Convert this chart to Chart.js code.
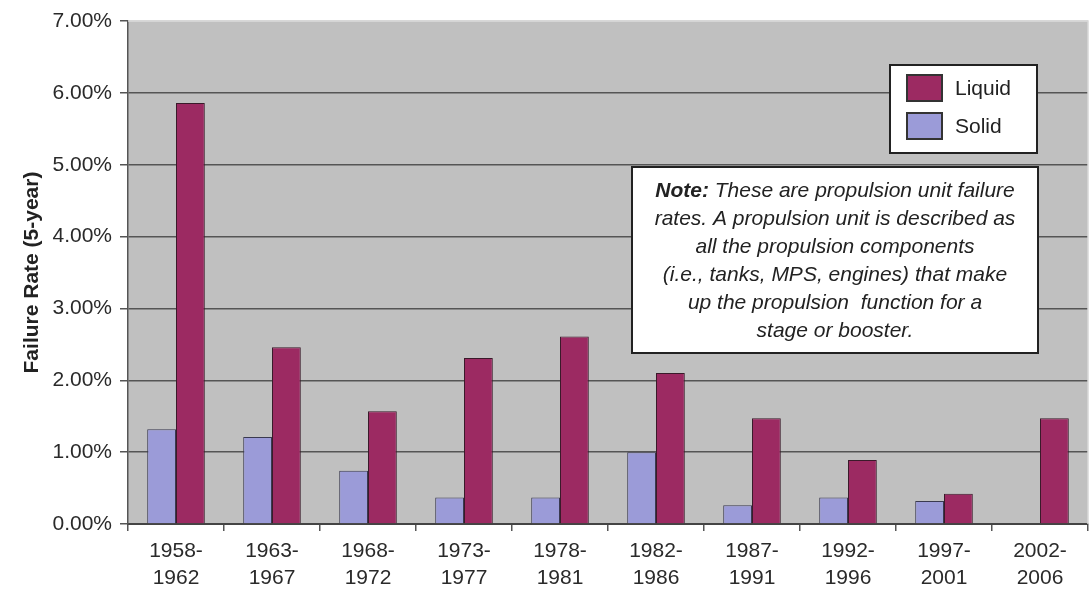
<!DOCTYPE html>
<html>
<head>
<meta charset="utf-8">
<title>Propulsion unit failure rate</title>
<script src="https://cdn.jsdelivr.net/npm/chart.js@4.4.1/dist/chart.umd.min.js"></script>
<style>
  html, body { margin: 0; padding: 0; background: #fff; }
  canvas { display: block; }
</style>
</head>
<body>
<canvas id="failureChart" width="1092" height="601"></canvas>
<script>
// values (percent, 5-year windows)
const periods = [
  ["1958-", "1962"], ["1963-", "1967"], ["1968-", "1972"], ["1973-", "1977"],
  ["1978-", "1981"], ["1982-", "1986"], ["1987-", "1991"], ["1992-", "1996"],
  ["1997-", "2001"], ["2002-", "2006"]
];
const solidRates = [1.32, 1.21, 0.74, 0.37, 0.37, 1.00, 0.26, 0.37, 0.32, 0];
const liquidRates = [5.86, 2.46, 1.57, 2.31, 2.61, 2.10, 1.47, 0.89, 0.42, 1.47];
const yTicks = [0, 1, 2, 3, 4, 5, 6, 7];
const legendOrder = ["Liquid", "Solid"];
const noteLead = "Note:";
const noteLines = [
  " These are propulsion unit failure",
  "rates. A propulsion unit is described as",
  "all the propulsion components",
  "(i.e., tanks, MPS, engines) that make",
  "up the propulsion  function for a",
  "stage or booster."
];

const FONT = "'Liberation Sans', Arial, sans-serif";
const LIQUID = "#9c2a62";
const SOLID = "#9b9bd8";

// gray plot background
const plotBackground = {
  id: "plotBackground",
  beforeDraw(chart) {
    const { ctx, chartArea: a } = chart;
    ctx.save();
    ctx.fillStyle = "#c0c0c0";
    ctx.fillRect(a.left, a.top, a.right - a.left, a.bottom - a.top);
    ctx.restore();
  },
  afterDraw(chart) {
    const { ctx, chartArea: a } = chart;
    ctx.save();
    ctx.strokeStyle = "#d8d8d8";
    ctx.lineWidth = 1.5;
    ctx.beginPath();
    ctx.moveTo(a.left, a.top);
    ctx.lineTo(a.right, a.top);
    ctx.lineTo(a.right, a.bottom);
    ctx.stroke();
    ctx.restore();
  }
};

// boxed legend and note drawn over the plot
const boxes = {
  id: "boxes",
  afterDatasetsDraw(chart) {
    const { ctx, chartArea: a } = chart;
    ctx.save();

    // legend box
    const lx = a.right - 198, ly = a.top + 44, lw = 147, lh = 88;
    ctx.fillStyle = "#fff";
    ctx.fillRect(lx, ly, lw, lh);
    ctx.strokeStyle = "#222";
    ctx.lineWidth = 2;
    ctx.strokeRect(lx, ly, lw, lh);

    ctx.font = "21px " + FONT;
    ctx.textBaseline = "middle";
    ctx.textAlign = "left";
    legendOrder.forEach((name, i) => {
      const ds = chart.data.datasets.find(d => d.label === name);
      const cy = ly + 23 + i * 38;
      ctx.fillStyle = ds.backgroundColor;
      ctx.fillRect(lx + 17, cy - 13, 35, 26);
      ctx.strokeStyle = "#333";
      ctx.lineWidth = 2;
      ctx.strokeRect(lx + 17, cy - 13, 35, 26);
      ctx.fillStyle = "#222";
      ctx.fillText(name, lx + 65, cy + 1);
    });

    // note box
    const nx = a.left + 504, ny = a.top + 146, nw = 406, nh = 186;
    ctx.fillStyle = "#fff";
    ctx.fillRect(nx, ny, nw, nh);
    ctx.strokeStyle = "#222";
    ctx.lineWidth = 2;
    ctx.strokeRect(nx, ny, nw, nh);

    const cx = nx + nw / 2;
    const bold = "italic bold 21px " + FONT;
    const ital = "italic 21px " + FONT;
    ctx.fillStyle = "#222";
    noteLines.forEach((line, i) => {
      const y = ny + 24 + i * 28;
      if (i === 0) {
        ctx.font = bold;
        const w1 = ctx.measureText(noteLead).width;
        ctx.font = ital;
        const w2 = ctx.measureText(line).width;
        const x0 = cx - (w1 + w2) / 2;
        ctx.textAlign = "left";
        ctx.font = bold;
        ctx.fillText(noteLead, x0, y);
        ctx.font = ital;
        ctx.fillText(line, x0 + w1, y);
      } else {
        ctx.font = ital;
        ctx.textAlign = "center";
        ctx.fillText(line, cx, y);
      }
    });
    ctx.restore();
  }
};

new Chart(document.getElementById("failureChart"), {
  type: "bar",
  data: {
    labels: periods,
    datasets: [
      {
        label: "Solid",
        data: solidRates,
        backgroundColor: SOLID,
        borderColor: "#3a3a50",
        borderWidth: 1,
        categoryPercentage: 0.6,
        barPercentage: 1.0
      },
      {
        label: "Liquid",
        data: liquidRates,
        backgroundColor: LIQUID,
        borderColor: "#3a1a2a",
        borderWidth: 1,
        categoryPercentage: 0.6,
        barPercentage: 1.0
      }
    ]
  },
  options: {
    responsive: false,
    animation: false,
    layout: { padding: { top: 21, right: 4, left: 0, bottom: 0 } },
    plugins: {
      legend: { display: false },
      tooltip: { enabled: false }
    },
    scales: {
      x: {
        offset: true,
        grid: {
          offset: true,
          drawOnChartArea: false,
          drawTicks: true,
          tickLength: 7,
          color: "#555",
          lineWidth: 1.5
        },
        border: { color: "#444", width: 2 },
        ticks: {
          color: "#2a2a2a",
          padding: 7,
          maxRotation: 0,
          autoSkip: false,
          font: { family: FONT, size: 21, lineHeight: 1.29 }
        },
        afterFit(scale) { scale.height = 77; }
      },
      y: {
        min: 0,
        max: 7,
        afterBuildTicks(scale) {
          scale.ticks = yTicks.map(v => ({ value: v }));
        },
        grid: {
          color: ctx => (ctx.tick && ctx.tick.value === 7 ? "#d8d8d8" : "#555"),
          lineWidth: 1.5,
          tickLength: 8,
          tickColor: "#555"
        },
        border: { color: "#555", width: 1.5 },
        ticks: {
          color: "#2a2a2a",
          padding: 8,
          font: { family: FONT, size: 21 },
          callback: v => v.toFixed(2) + "%"
        },
        title: {
          display: true,
          text: "Failure Rate (5-year)",
          color: "#222",
          padding: { top: 20, bottom: 0 },
          font: { family: FONT, size: 21, weight: "bold" }
        },
        afterFit(scale) { scale.width = 128; }
      }
    }
  },
  plugins: [plotBackground, boxes]
});
</script>
</body>
</html>
